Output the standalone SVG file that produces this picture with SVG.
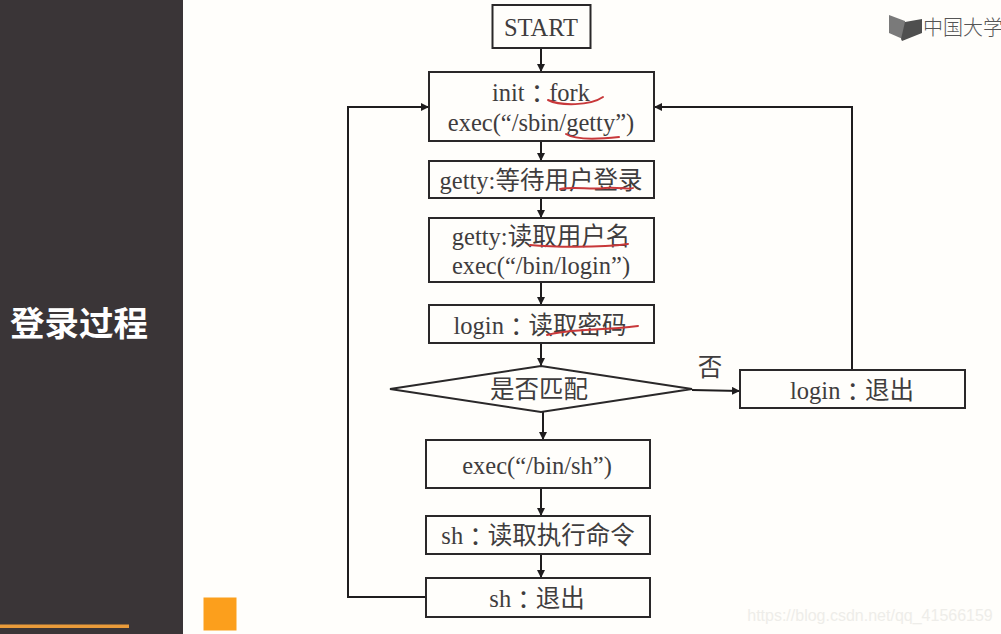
<svg xmlns="http://www.w3.org/2000/svg" width="1001" height="634" viewBox="0 0 1001 634">
<style>
.box{fill:#fffefb;stroke:#2a2829;stroke-width:2}
.t{font-family:"Liberation Serif","Noto Sans CJK SC",serif;font-size:24.500px;fill:#3f3d3e;text-anchor:middle}
.k{font-family:"Noto Sans CJK TC",sans-serif}
.c{fill:none;stroke:#1f1d1e;stroke-width:2}
.r{fill:none;stroke:#c8383a;stroke-width:2;stroke-linecap:round}
</style>
<defs>
<marker id="a" markerUnits="userSpaceOnUse" markerWidth="9" markerHeight="9" refX="8" refY="4" orient="auto"><path d="M0 0L8 4L0 8Z" fill="#1f1d1e"/></marker>
</defs>
<rect width="1001" height="634" fill="#fffefb"/>
<rect width="183" height="634" fill="#3a3537"/>
<text x="79" y="336" font-family="'Noto Sans CJK SC',sans-serif" font-weight="700" font-size="34.500" fill="#fff" text-anchor="middle">登录过程</text>
<rect x="0" y="624.500" width="129" height="3.500" fill="#e99b3a"/>
<rect x="203.500" y="597.500" width="33" height="33" fill="#fc9f1c"/>
<g id="logo">
<path d="M889 15L905 21V40L889 33Z" fill="#7a7a7a"/>
<path d="M901 39L905 22L922 19V33L902 41Z" fill="#4f4f4f"/>
<text x="963" y="35" font-family="'Noto Sans CJK SC',sans-serif" font-size="20" font-weight="300" fill="#555" text-anchor="middle">中国大学</text>
</g>
<g id="connectors">
<path class="c" marker-end="url(#a)" d="M541 48V72"/>
<path class="c" marker-end="url(#a)" d="M541 141V161"/>
<path class="c" marker-end="url(#a)" d="M541 198V218"/>
<path class="c" marker-end="url(#a)" d="M541 282V305"/>
<path class="c" marker-end="url(#a)" d="M541 343V366"/>
<path class="c" marker-end="url(#a)" d="M543 412V440"/>
<path class="c" marker-end="url(#a)" d="M541 488V516"/>
<path class="c" marker-end="url(#a)" d="M541 554V578"/>
<path class="c" marker-end="url(#a)" d="M692 390L740 391"/>
<path class="c" marker-end="url(#a)" d="M852 370V107H654"/>
<path class="c" marker-end="url(#a)" d="M426 597H348V107H429"/>
</g>
<g id="n-start"><rect class="box" x="492.500" y="5" width="98" height="43"/><text class="t" x="541" y="35.500">START</text></g>
<g id="n-init"><rect class="box" x="429" y="72" width="225" height="69"/><text class="t" x="541" y="100.500">init<tspan class="k" dy="2">：</tspan><tspan dy="-2">fork</tspan></text><text class="t" x="541" y="131">exec(“/sbin/getty”)</text></g>
<g id="n-wait"><rect class="box" x="429" y="161" width="225" height="37"/><text class="t" x="541" y="188.500">getty:等待用户登录</text></g>
<g id="n-read"><rect class="box" x="429" y="218" width="225" height="64"/><text class="t" x="541" y="244.500">getty:读取用户名</text><text class="t" x="541" y="273.500">exec(“/bin/login”)</text></g>
<g id="n-pass"><rect class="box" x="429" y="305" width="225" height="38"/><text class="t" x="540" y="333.500">login<tspan class="k" dy="2">：</tspan><tspan dy="-2">读取密码</tspan></text></g>
<g id="n-match"><path class="box" d="M390 389L541 366L692 389L541 412Z"/><text class="t" x="539" y="397.500">是否匹配</text></g>
<g id="n-exit-login"><rect class="box" x="740" y="370" width="225" height="38"/><text class="t" x="852" y="398.500">login<tspan class="k" dy="2">：</tspan><tspan dy="-2">退出</tspan></text></g>
<g id="n-sh"><rect class="box" x="426" y="440" width="224" height="48"/><text class="t" x="537" y="473.500">exec(“/bin/sh”)</text></g>
<g id="n-cmd"><rect class="box" x="426" y="516" width="224" height="38"/><text class="t" x="538" y="543.500">sh<tspan class="k" dy="2">：</tspan><tspan dy="-2">读取执行命令</tspan></text></g>
<g id="n-exit-sh"><rect class="box" x="426" y="578" width="224" height="39"/><text class="t" x="537" y="606.500">sh<tspan class="k" dy="2">：</tspan><tspan dy="-2">退出</tspan></text></g>
<text class="t" x="710" y="376">否</text>
<text x="870" y="621" font-family="'Liberation Sans',sans-serif" font-size="16" fill="#eeede9" text-anchor="middle">https://blog.csdn.net/qq_41566159</text>
<g id="ink">
<path class="r" d="M548 100C560 106 590 106 603 97"/>
<path class="r" d="M566 134C575 140 600 139 619 137"/>
<path class="r" d="M560 189C575 186 590 190 605 188C620 187 630 190 633 188"/>
<path class="r" d="M530 245C550 247 600 248 628 244"/>
<path class="r" d="M547 335C570 328 600 331 638 326"/>
</g>
</svg>
